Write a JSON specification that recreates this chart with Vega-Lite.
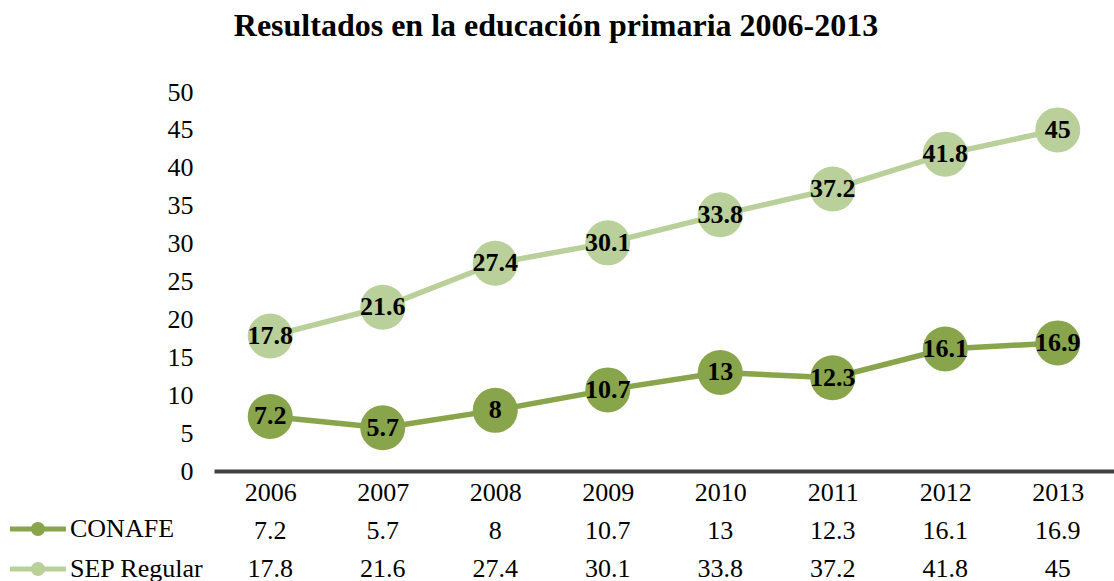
{
  "$schema": "https://vega.github.io/schema/vega-lite/v6.json",
  "padding": {"left": 18, "top": 10, "right": 0, "bottom": 0},
  "config": {"font": "Liberation Serif", "view": {"stroke": null}},
  "title": {"text": "Resultados en la educación primaria 2006-2013", "font": "Liberation Serif", "fontSize": 32, "fontWeight": "bold", "color": "black", "anchor": "middle", "offset": 36, "dx": -10},
  "datasets": {
    "d": [
      {"year": "2006", "series": "CONAFE", "value": 7.2},
      {"year": "2007", "series": "CONAFE", "value": 5.7},
      {"year": "2008", "series": "CONAFE", "value": 8},
      {"year": "2009", "series": "CONAFE", "value": 10.7},
      {"year": "2010", "series": "CONAFE", "value": 13},
      {"year": "2011", "series": "CONAFE", "value": 12.3},
      {"year": "2012", "series": "CONAFE", "value": 16.1},
      {"year": "2013", "series": "CONAFE", "value": 16.9},
      {"year": "2006", "series": "SEP Regular", "value": 17.8},
      {"year": "2007", "series": "SEP Regular", "value": 21.6},
      {"year": "2008", "series": "SEP Regular", "value": 27.4},
      {"year": "2009", "series": "SEP Regular", "value": 30.1},
      {"year": "2010", "series": "SEP Regular", "value": 33.8},
      {"year": "2011", "series": "SEP Regular", "value": 37.2},
      {"year": "2012", "series": "SEP Regular", "value": 41.8},
      {"year": "2013", "series": "SEP Regular", "value": 45}
    ]
  },
  "spacing": 12,
  "vconcat": [
    {
      "width": 900,
      "height": 379,
      "data": {"name": "d"},
      "encoding": {
        "x": {"field": "year", "type": "ordinal", "scale": {"type": "point", "padding": 0.5},
          "axis": {"title": null, "labelAngle": 0, "labelFontSize": 26, "labelColor": "black", "labelFont": "Liberation Serif", "ticks": false, "domain": true, "domainColor": "#404040", "domainWidth": 4, "labelPadding": 8, "grid": false}},
        "y": {"field": "value", "type": "quantitative", "scale": {"domain": [0, 50], "nice": false},
          "axis": {"title": null, "values": [0, 5, 10, 15, 20, 25, 30, 35, 40, 45, 50], "grid": false, "domain": false, "ticks": false, "labelFontSize": 26, "labelColor": "black", "labelFont": "Liberation Serif", "labelPadding": 21}},
        "color": {"field": "series", "type": "nominal",
          "scale": {"domain": ["CONAFE", "SEP Regular"], "range": ["#88A54B", "#B9D09A"]},
          "legend": {"title": null, "orient": "none", "legendX": -196, "legendY": 417, "direction": "vertical", "padding": 0,
            "symbolType": "M-1.4,-0.125L1.4,-0.125L1.4,0.125L-1.4,0.125Z M0.35,0A0.35,0.35,0,1,1,-0.35,0A0.35,0.35,0,1,1,0.35,0Z",
            "symbolSize": 1600, "symbolStrokeWidth": 0, "labelFontSize": 26, "labelFont": "Liberation Serif", "labelColor": "black", "labelOffset": 12, "rowPadding": 7,
            "encode": {"symbols": {"update": {"fill": {"scale": "color", "field": "value"}, "fillOpacity": {"value": 1}, "strokeWidth": {"value": 0}}}}}}
      },
      "layer": [
        {"mark": {"type": "line", "strokeWidth": 5.5}},
        {"mark": {"type": "point", "filled": true, "size": 2025, "opacity": 1}},
        {"mark": {"type": "text", "fontSize": 26, "fontWeight": "bold", "font": "Liberation Serif", "color": "black"},
          "encoding": {"text": {"field": "value", "type": "quantitative"}, "color": {"value": "black"}}}
      ]
    },
    {
      "width": 900,
      "height": 60,
      "data": {"name": "d"},
      "mark": {"type": "text", "fontSize": 26, "font": "Liberation Serif", "color": "black"},
      "encoding": {
        "x": {"field": "year", "type": "ordinal", "scale": {"type": "point", "padding": 0.5}, "axis": null},
        "y": {"field": "series", "type": "ordinal", "scale": {"type": "point", "padding": 0.289}, "axis": null},
        "text": {"field": "value", "type": "quantitative"}
      }
    }
  ]
}
